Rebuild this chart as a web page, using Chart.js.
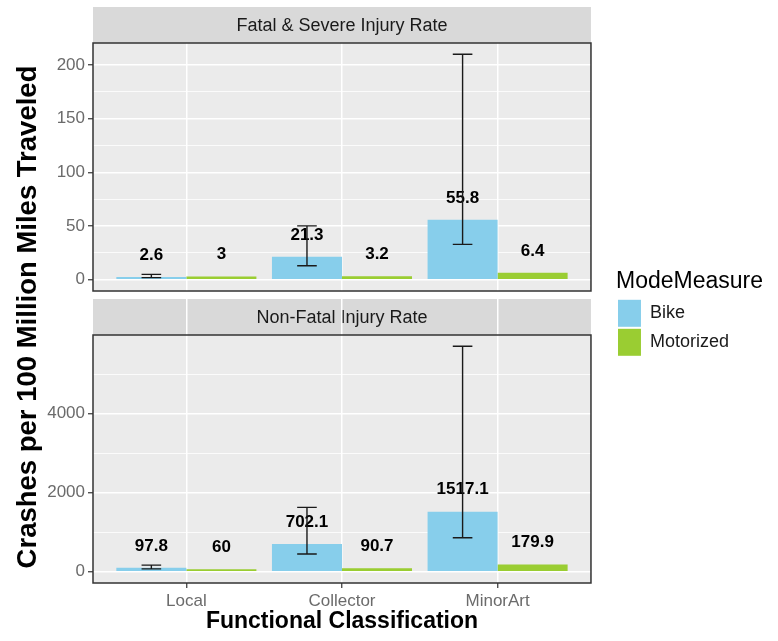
<!DOCTYPE html>
<html>
<head>
<meta charset="utf-8">
<script src="https://cdn.jsdelivr.net/npm/chart.js@4/dist/chart.umd.min.js"></script>
<style>
  html, body { margin: 0; padding: 0; background: #ffffff; }
  #wrap { position: relative; width: 778px; height: 641px; }
</style>
</head>
<body>
<div id="wrap"><canvas id="c"></canvas></div>
<script>
// ---------------- data ----------------
const categories = ['Local', 'Collector', 'MinorArt'];
const seriesNames = ['Bike', 'Motorized'];
const panelTitles = ['Fatal & Severe Injury Rate', 'Non-Fatal Injury Rate'];
const xTitle = 'Functional Classification';
const yTitle = 'Crashes per 100 Million Miles Traveled';
const legendTitle = 'ModeMeasure';

const bikeFatal      = [2.6, 21.3, 55.8];
const motorFatal     = [3, 3.2, 6.4];
const bikeFatalLow   = [2.0, 13.0, 32.9];
const bikeFatalHigh  = [5.0, 50.2, 210];

const bikeInjury     = [97.8, 702.1, 1517.1];
const motorInjury    = [60, 90.7, 179.9];
const bikeInjuryLow  = [72, 447, 860];
const bikeInjuryHigh = [168, 1628, 5707];

// tick labels (major) and minor grid positions per panel
const fatalTicks       = [0, 50, 100, 150, 200];
const fatalMinorTicks  = [25, 75, 125, 175];
const injuryTicks      = [0, 2000, 4000];
const injuryMinorTicks = [1000, 3000, 5000];

// ---------------- style ----------------
const FONT = '"Liberation Sans", Arial, Helvetica, sans-serif';
const BIKE_COLOR = '#87CEEB';
const MOTOR_COLOR = '#9ACD32';
const PANEL_BG = '#EBEBEB';
const STRIP_BG = '#D9D9D9';
const STRIP_H = 36;
const LABEL_OFFSET = 22;
const AXIS_W = 93;

Chart.defaults.font.family = FONT;

// ggplot-like 5% expansion of the continuous range (data includes 0)
function expandRange(arrays) {
  const vals = arrays.flat();
  const lo = Math.min(0, ...vals), hi = Math.max(...vals);
  const span = hi - lo;
  return { min: lo - 0.05 * span, max: hi + 0.05 * span };
}
const fatalRange = expandRange([bikeFatal, motorFatal, bikeFatalLow, bikeFatalHigh]);
const injuryRange = expandRange([bikeInjury, motorInjury, bikeInjuryLow, bikeInjuryHigh]);

const toXY = arr => arr.map((v, i) => ({ x: i, y: v }));

const datasets = [
  { label: seriesNames[0], data: toXY(bikeFatal),   yAxisID: 'yTop', stack: 'bike',  backgroundColor: BIKE_COLOR,  borderColor: BIKE_COLOR },
  { label: seriesNames[1], data: toXY(motorFatal),  yAxisID: 'yTop', stack: 'motor', backgroundColor: MOTOR_COLOR, borderColor: MOTOR_COLOR },
  { label: seriesNames[0], data: toXY(bikeInjury),  yAxisID: 'yBot', stack: 'bike',  backgroundColor: BIKE_COLOR,  borderColor: BIKE_COLOR },
  { label: seriesNames[1], data: toXY(motorInjury), yAxisID: 'yBot', stack: 'motor', backgroundColor: MOTOR_COLOR, borderColor: MOTOR_COLOR }
];
const valueArrays = [bikeFatal, motorFatal, bikeInjury, motorInjury];
const errorSets = [
  { dataset: 0, low: bikeFatalLow, high: bikeFatalHigh },
  { dataset: 2, low: bikeInjuryLow, high: bikeInjuryHigh }
];
const panels = [
  { scale: 'yTop', title: panelTitles[0] },
  { scale: 'yBot', title: panelTitles[1] }
];

function yScaleOpts(range, major, minor, weight) {
  const isMajor = c => c.tick && major.includes(c.tick.value);
  return {
    type: 'linear', position: 'left', stack: 'panels', stackWeight: 248, weight: weight,
    stacked: false, min: range.min, max: range.max,
    afterBuildTicks: s => {
      s.ticks = major.concat(minor).sort((a, b) => a - b).map(v => ({ value: v }));
    },
    ticks: {
      autoSkip: false,
      font: { size: 17 }, color: '#6b6b6b', padding: 3,
      callback: v => (major.includes(v) ? String(v) : '')
    },
    grid: {
      color: '#ffffff',
      lineWidth: c => (isMajor(c) ? 1.5 : 0.8),
      drawTicks: true, tickLength: 5, tickWidth: 1.2,
      tickColor: c => (isMajor(c) ? '#333333' : 'rgba(0,0,0,0)')
    },
    border: { display: false },
    afterFit: s => { s.width = AXIS_W; }
  };
}

const facetPlugin = {
  id: 'facets',
  afterLayout(chart) {
    // let the legend box reach the canvas edge so its title is not clipped
    const lg = chart.legend;
    if (lg) { lg.right = chart.width; lg.width = lg.right - lg.left; }
  },
  beforeDraw(chart) {
    const { ctx, chartArea } = chart;
    ctx.save();
    panels.forEach(p => {
      const s = chart.scales[p.scale];
      ctx.fillStyle = PANEL_BG;
      ctx.fillRect(chartArea.left, s.top, chartArea.right - chartArea.left, s.bottom - s.top);
      ctx.fillStyle = STRIP_BG;
      ctx.fillRect(chartArea.left, s.top - STRIP_H, chartArea.right - chartArea.left, STRIP_H);
      ctx.fillStyle = '#1a1a1a';
      ctx.font = '18px ' + FONT;
      ctx.textAlign = 'center';
      ctx.textBaseline = 'middle';
      ctx.fillText(p.title, (chartArea.left + chartArea.right) / 2, s.top - STRIP_H / 2 + 1);
    });
    ctx.restore();
  },
  afterDatasetsDraw(chart) {
    const { ctx, chartArea } = chart;
    ctx.save();
    // value labels
    ctx.fillStyle = '#000000';
    ctx.font = 'bold 17px ' + FONT;
    ctx.textAlign = 'center';
    ctx.textBaseline = 'middle';
    valueArrays.forEach((arr, d) => {
      const meta = chart.getDatasetMeta(d);
      meta.data.forEach((bar, i) => {
        ctx.fillText(String(arr[i]), bar.x, bar.y - LABEL_OFFSET);
      });
    });
    // error bars
    ctx.strokeStyle = '#1a1a1a';
    ctx.lineWidth = 1.4;
    errorSets.forEach(es => {
      const meta = chart.getDatasetMeta(es.dataset);
      const ys = chart.scales[meta.yAxisID];
      meta.data.forEach((bar, i) => {
        const yl = ys.getPixelForValue(es.low[i]);
        const yh = ys.getPixelForValue(es.high[i]);
        const hw = bar.width * 0.14;
        ctx.beginPath();
        ctx.moveTo(bar.x, yl); ctx.lineTo(bar.x, yh);
        ctx.moveTo(bar.x - hw, yl); ctx.lineTo(bar.x + hw, yl);
        ctx.moveTo(bar.x - hw, yh); ctx.lineTo(bar.x + hw, yh);
        ctx.stroke();
      });
    });
    // panel borders
    ctx.strokeStyle = '#333333';
    ctx.lineWidth = 1.5;
    panels.forEach(p => {
      const s = chart.scales[p.scale];
      ctx.strokeRect(chartArea.left, s.top, chartArea.right - chartArea.left, s.bottom - s.top);
    });
    ctx.restore();
  },
  afterDraw(chart) {
    const { ctx } = chart;
    const top = chart.scales.yTop.top, bottom = chart.scales.yBot.bottom;
    ctx.save();
    ctx.translate(chart.scales.yTop.left + 28, (top + bottom) / 2 + 4);
    ctx.rotate(-Math.PI / 2);
    ctx.fillStyle = '#000000';
    ctx.font = 'bold 27.5px ' + FONT;
    ctx.textAlign = 'center';
    ctx.textBaseline = 'middle';
    ctx.fillText(yTitle, 0, 0);
    ctx.restore();
  }
};

new Chart(document.getElementById('c'), {
  type: 'bar',
  data: { datasets },
  plugins: [facetPlugin],
  options: {
    responsive: true,
    maintainAspectRatio: false,
    animation: false,
    events: [],
    layout: { padding: { top: 43, left: 0, right: 39, bottom: 0 } },
    datasets: {
      bar: { categoryPercentage: 0.9, barPercentage: 1.0, borderWidth: 0 }
    },
    scales: {
      x: {
        type: 'linear', position: 'bottom', min: -0.6, max: 2.6, offset: false,
        afterBuildTicks: s => { s.ticks = categories.map((c, i) => ({ value: i })); },
        ticks: {
          autoSkip: false, maxRotation: 0,
          font: { size: 17 }, color: '#6b6b6b', padding: 3,
          callback: v => (categories[v] !== undefined ? categories[v] : '')
        },
        grid: { offset: false, color: '#ffffff', lineWidth: 1.5, drawTicks: true, tickLength: 5, tickWidth: 1.2, tickColor: '#333333' },
        border: { display: false },
        title: { display: true, text: xTitle, color: '#000000', font: { size: 23, weight: 'bold' }, padding: { top: 0, bottom: 6 } },
        afterFit: s => { s.height = 58; }
      },
      yTop: yScaleOpts(fatalRange, fatalTicks, fatalMinorTicks, 3),
      yGap: {
        type: 'linear', position: 'left', stack: 'panels', stackWeight: 44, weight: 2,
        ticks: { display: false }, grid: { display: false }, border: { display: false },
        afterFit: s => { s.width = AXIS_W; }
      },
      yBot: yScaleOpts(injuryRange, injuryTicks, injuryMinorTicks, 1),
      ySpacer: {
        type: 'linear', position: 'right',
        ticks: { display: false }, grid: { display: false }, border: { display: false },
        afterFit: s => { s.width = 25; }
      }
    },
    plugins: {
      tooltip: { enabled: false },
      legend: {
        position: 'right', align: 'center', fullSize: false, maxWidth: 300,
        labels: {
          boxWidth: 23, boxHeight: 27, padding: 2,
          font: { size: 18 }, color: '#1a1a1a',
          filter: item => item.datasetIndex < 2
        },
        title: {
          display: true, text: legendTitle, position: 'start',
          font: { size: 23 }, color: '#000000', padding: { top: 2, bottom: 0 }
        }
      }
    }
  }
});
</script>
</body>
</html>
